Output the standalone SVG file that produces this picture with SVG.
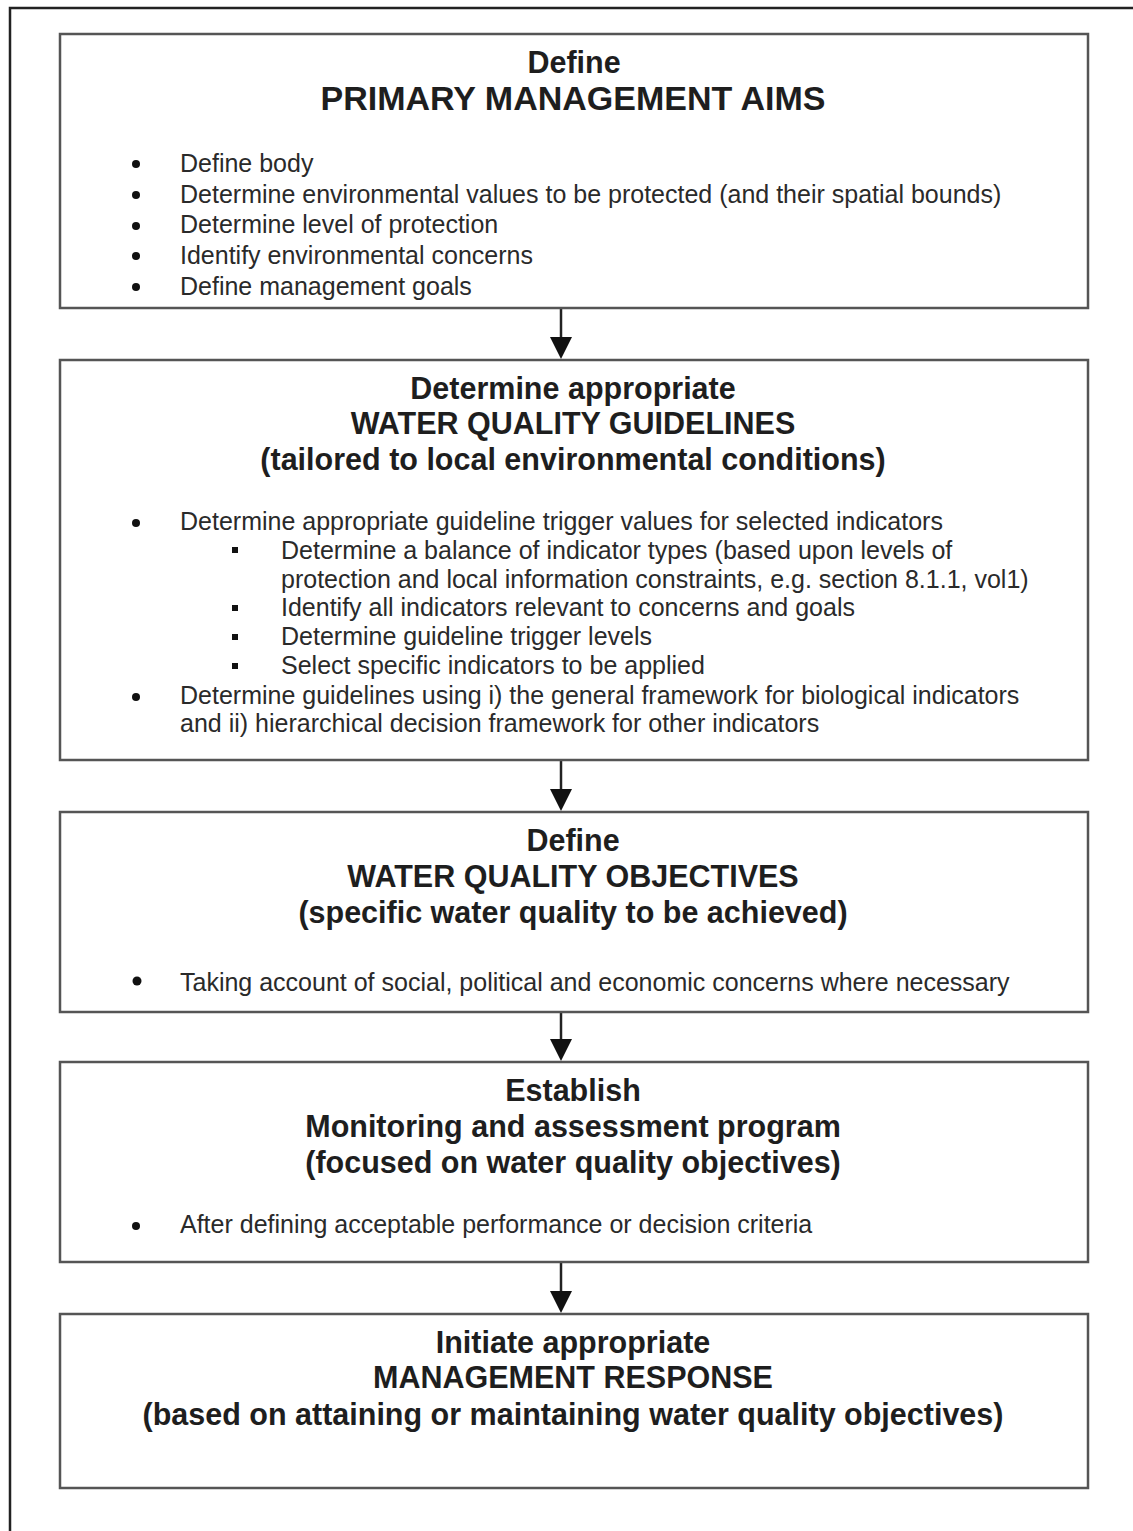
<svg xmlns="http://www.w3.org/2000/svg" width="1133" height="1531" viewBox="0 0 1133 1531">
<style>
.bg{fill:#ffffff}
.frame{fill:none;stroke:#222;stroke-width:2.5}
.box{fill:#ffffff;stroke:#555;stroke-width:2.5}
.h{font-family:"Liberation Sans",Arial,sans-serif;font-weight:bold;font-size:30.5px;fill:#1e1e1e;text-anchor:middle}
.t{font-family:"Liberation Sans",Arial,sans-serif;font-size:25px;fill:#2a2a2a}
.dot{fill:#111}
.sq{fill:#111}
.conn{stroke:#222;stroke-width:2.5;fill:none}
</style>
<rect class="bg" x="0" y="0" width="1133" height="1531"/>
<path class="frame" d="M10,1540 L10,8 L1140,8"/>

<g id="connectors">
<line class="conn" x1="561" y1="309" x2="561" y2="338"/>
<path d="M550,337 L572,337 L561,359 Z" fill="#111"/>
<line class="conn" x1="561" y1="761" x2="561" y2="790"/>
<path d="M550,789 L572,789 L561,811 Z" fill="#111"/>
<line class="conn" x1="561" y1="1013" x2="561" y2="1040"/>
<path d="M550,1039 L572,1039 L561,1061 Z" fill="#111"/>
<line class="conn" x1="561" y1="1263" x2="561" y2="1292"/>
<path d="M550,1291 L572,1291 L561,1313 Z" fill="#111"/>
</g>

<g id="node1">
<rect class="box" x="60" y="34" width="1028" height="274"/>
<text class="h" x="574" y="73">Define</text>
<text class="h" x="573" y="110" style="font-size:34px">PRIMARY MANAGEMENT AIMS</text>
<circle class="dot" cx="136" cy="164" r="4"/>
<text class="t" x="180" y="172">Define body</text>
<circle class="dot" cx="136" cy="195" r="4"/>
<text class="t" x="180" y="203">Determine environmental values to be protected (and their spatial bounds)</text>
<circle class="dot" cx="136" cy="226" r="4"/>
<text class="t" x="180" y="233">Determine level of protection</text>
<circle class="dot" cx="136" cy="256" r="4"/>
<text class="t" x="180" y="264">Identify environmental concerns</text>
<circle class="dot" cx="136" cy="287" r="4"/>
<text class="t" x="180" y="295">Define management goals</text>
</g>

<g id="node2">
<rect class="box" x="60" y="360" width="1028" height="400"/>
<text class="h" x="573" y="399">Determine appropriate</text>
<text class="h" x="573" y="434">WATER QUALITY GUIDELINES</text>
<text class="h" x="573" y="470">(tailored to local environmental conditions)</text>
<circle class="dot" cx="136" cy="523" r="4"/>
<text class="t" x="180" y="530">Determine appropriate guideline trigger values for selected indicators</text>
<rect class="sq" x="232" y="547" width="6" height="6"/>
<text class="t" x="281" y="559">Determine a balance of indicator types (based upon levels of</text>
<text class="t" x="281" y="588">protection and local information constraints, e.g. section 8.1.1, vol1)</text>
<rect class="sq" x="232" y="605" width="6" height="6"/>
<text class="t" x="281" y="616">Identify all indicators relevant to concerns and goals</text>
<rect class="sq" x="232" y="634" width="6" height="6"/>
<text class="t" x="281" y="645">Determine guideline trigger levels</text>
<rect class="sq" x="232" y="663" width="6" height="6"/>
<text class="t" x="281" y="674">Select specific indicators to be applied</text>
<circle class="dot" cx="136" cy="697" r="4"/>
<text class="t" x="180" y="704">Determine guidelines using i) the general framework for biological indicators</text>
<text class="t" x="180" y="732">and ii) hierarchical decision framework for other indicators</text>
</g>

<g id="node3">
<rect class="box" x="60" y="812" width="1028" height="200"/>
<text class="h" x="573" y="851">Define</text>
<text class="h" x="573" y="887">WATER QUALITY OBJECTIVES</text>
<text class="h" x="573" y="923">(specific water quality to be achieved)</text>
<circle class="dot" cx="137" cy="981" r="4.5"/>
<text class="t" x="180" y="991">Taking account of social, political and economic concerns where necessary</text>
</g>

<g id="node4">
<rect class="box" x="60" y="1062" width="1028" height="200"/>
<text class="h" x="573" y="1101">Establish</text>
<text class="h" x="573" y="1137">Monitoring and assessment program</text>
<text class="h" x="573" y="1173">(focused on water quality objectives)</text>
<circle class="dot" cx="136" cy="1226" r="4"/>
<text class="t" x="180" y="1233">After defining acceptable performance or decision criteria</text>
</g>

<g id="node5">
<rect class="box" x="60" y="1314" width="1028" height="174"/>
<text class="h" x="573" y="1353">Initiate appropriate</text>
<text class="h" x="573" y="1388">MANAGEMENT RESPONSE</text>
<text class="h" x="573" y="1425">(based on attaining or maintaining water quality objectives)</text>
</g>
</svg>
